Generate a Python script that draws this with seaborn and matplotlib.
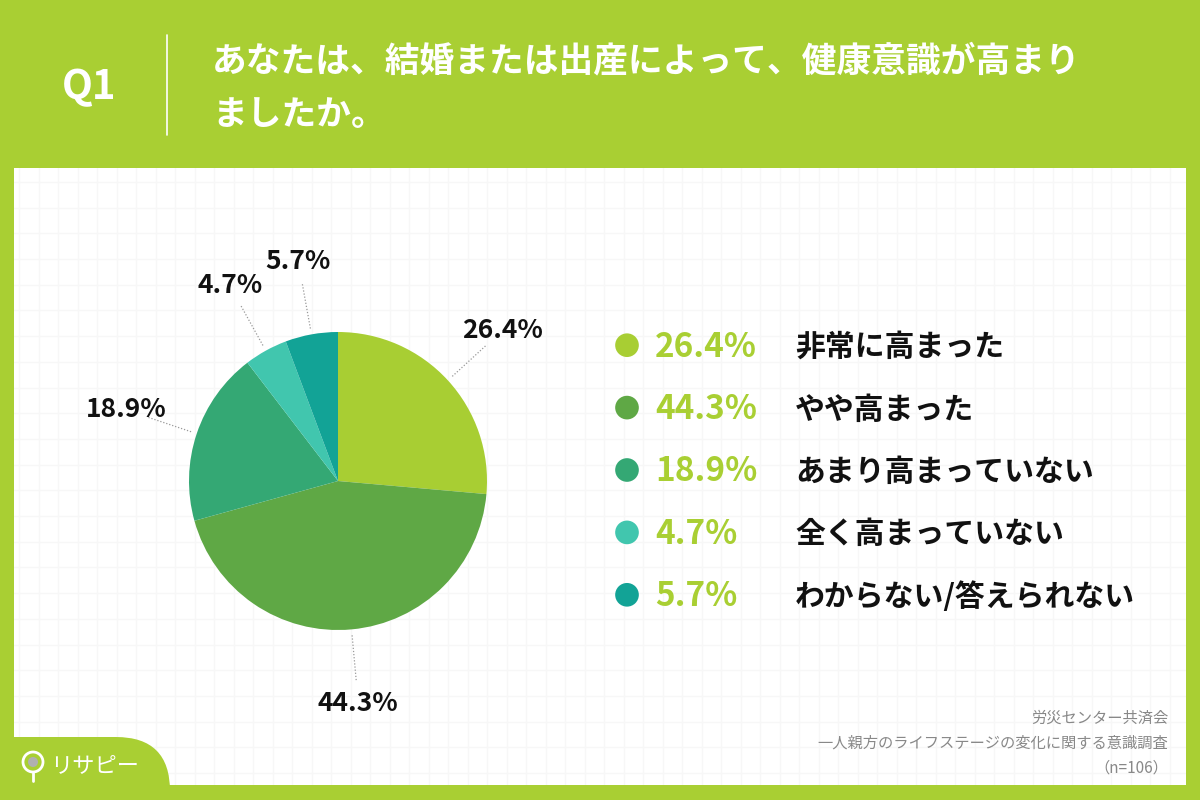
import numpy as np
import matplotlib
matplotlib.use("Agg")
import matplotlib.pyplot as plt
import seaborn as sns
from matplotlib.patches import FancyBboxPatch, Ellipse

# -------------------------------
# DATA
# -------------------------------
categories = ["非常に高まった", "やや高まった", "あまり高まっていない",
              "全く高まっていない", "わからない/答えられない"]
values = [26.4, 44.3, 18.9, 4.7, 5.7]
pct_labels = [f"{v:.1f}%" for v in values]
colors = ["#A8CE33", "#5FA845", "#34A874", "#41C6AE", "#12A396"]

title_q = "Q1"
title_lines = ["あなたは、結婚または出産によって、健康意識が高まり", "ましたか。"]
source_lines = ["労災センター共済会", "一人親方のライフステージの変化に関する意識調査", "（n=106）"]

LIME = "#A9CF33"

# -------------------------------
# STYLE
# -------------------------------
sns.set_theme(style="white")
plt.rcParams['font.family'] = ['Noto Sans CJK JP', 'DejaVu Sans']

W, H = 1200, 800
fig = plt.figure(figsize=(12, 8), dpi=100, facecolor=LIME)


def fx(x):
    return x / W


def fy(y):
    return 1 - y / H


# white panel with faint grid
ax_bg = fig.add_axes([fx(14), fy(785), fx(1186) - fx(14), fy(168) - fy(785)], zorder=-2)
ax_bg.set_facecolor("white")
ax_bg.set_xlim(14, 1186)
ax_bg.set_ylim(785, 168)
ax_bg.set_xticks(np.arange(19, 1186, 19.5))
ax_bg.set_yticks(np.arange(182, 785, 25.7))
ax_bg.grid(True, color="#f7f7f7", linewidth=1)
ax_bg.tick_params(length=0, labelbottom=False, labelleft=False)
for s in ax_bg.spines.values():
    s.set_visible(False)

# -------------------------------
# HEADER
# -------------------------------
fig.text(fx(89), fy(88), title_q, color="white", fontsize=29, fontweight="bold",
         ha="center", va="center")
fig.add_artist(plt.Line2D([fx(167), fx(167)], [fy(35), fy(135)], color="white",
                          linewidth=1.2, transform=fig.transFigure))
fig.text(fx(212), fy(61), title_lines[0], color="white", fontsize=25,
         fontweight="bold", ha="left", va="center")
fig.text(fx(212), fy(114), title_lines[1], color="white", fontsize=25,
         fontweight="bold", ha="left", va="center")

# -------------------------------
# PIE
# -------------------------------
cx, cy, R = 338, 481, 149
half = 250
ax = fig.add_axes([fx(cx - half), fy(cy + half), 2 * half / W, 2 * half / H])

wedges, texts = ax.pie(values, colors=colors, startangle=90, counterclock=False,
                       labels=pct_labels, labeldistance=1.5, radius=1,
                       wedgeprops=dict(linewidth=0),
                       textprops=dict(fontsize=19, fontweight="bold", color="#111111"))
lim = half / R
ax.set_xlim(-lim, lim)
ax.set_ylim(-lim, lim)
ax.set_aspect("equal")
ax.axis("off")
for t in texts:
    t.set_ha("center")
    t.set_va("center")

for w in wedges:
    ang = np.deg2rad((w.theta1 + w.theta2) / 2)
    ax.plot([1.04 * np.cos(ang), 1.35 * np.cos(ang)],
            [1.04 * np.sin(ang), 1.35 * np.sin(ang)],
            color="#999999", linewidth=0.9, linestyle=(0, (1, 1.5)))

# -------------------------------
# LEGEND
# -------------------------------
ax_leg = fig.add_axes([fx(600), fy(626), fx(1180) - fx(600), fy(314) - fy(626)])
rows = np.arange(len(values))
sns.scatterplot(x=np.full(len(values), 27), y=rows, hue=categories,
                palette=colors, s=290, linewidth=0, legend=False, ax=ax_leg)
ax_leg.set_xlim(0, 580)
ax_leg.set_ylim(len(values) - 0.5, -0.5)
ax_leg.axis("off")
for i, (p, c) in enumerate(zip(pct_labels, categories)):
    ax_leg.text(55, i + 0.03, p, color=LIME, fontsize=24, fontweight="bold",
                ha="left", va="center")
    ax_leg.text(195, i + 0.03, c, color="#111111", fontsize=21.5, fontweight="bold",
                ha="left", va="center")

# -------------------------------
# SOURCE
# -------------------------------
for i, line in enumerate(source_lines):
    fig.text(fx(1168), fy(718 + 25 * i), line, color="#888888", fontsize=11,
             ha="right", va="center")

# -------------------------------
# LOGO TAB
# -------------------------------
fig.patches.append(FancyBboxPatch((fx(-40), fy(840)), fx(210), fy(737) - fy(840),
                                  boxstyle="round,pad=0,rounding_size=0.045",
                                  transform=fig.transFigure, facecolor=LIME,
                                  edgecolor="none", zorder=1,
                                  mutation_aspect=W / H))
fig.add_artist(Ellipse((fx(33), fy(762)), 20 / W, 20 / H, transform=fig.transFigure,
                       facecolor="none", edgecolor="white", linewidth=2, zorder=3))
fig.add_artist(Ellipse((fx(33), fy(762)), 10 / W, 10 / H, transform=fig.transFigure,
                       facecolor="#b0b0b0", edgecolor="none", zorder=3))
fig.add_artist(plt.Line2D([fx(33), fx(33)], [fy(773), fy(781)], color="white",
                          linewidth=2, transform=fig.transFigure, zorder=3))
fig.text(fx(50), fy(766), "リサピー", color="white", fontsize=16,
         ha="left", va="center")

plt.savefig("out.png", dpi=100, facecolor=LIME)
